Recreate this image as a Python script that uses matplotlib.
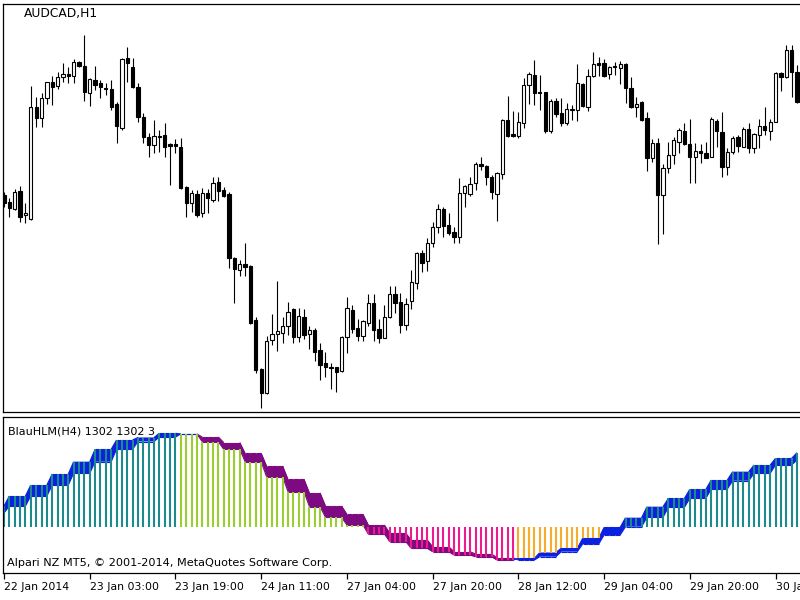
import numpy as np
import matplotlib
matplotlib.use("Agg")
import matplotlib.pyplot as plt
from matplotlib.collections import LineCollection

# ---------------- data ----------------
symbol_label = "AUDCAD,H1"
indicator_label = "BlauHLM(H4) 1302 1302 3"
copyright_label = "Alpari NZ MT5, \u00a9 2001-2014, MetaQuotes Software Corp."

tick_positions = [0, 16, 32, 48, 64, 80, 96, 112, 128, 144]
tick_labels = ["22 Jan 2014", "23 Jan 03:00", "23 Jan 19:00", "24 Jan 11:00",
               "27 Jan 04:00", "27 Jan 20:00", "28 Jan 12:00", "29 Jan 04:00",
               "29 Jan 20:00", "30 Jan 12:00"]

open_ = [
    0.9825, 0.9818, 0.9811, 0.9829, 0.9805, 0.9801, 0.9913, 0.9902, 0.9922, 0.9938,
    0.9934, 0.9943, 0.9946, 0.9944, 0.9958, 0.9954, 0.9927, 0.9940, 0.9937, 0.9932,
    0.9931, 0.9916, 0.9892, 0.9962, 0.9953, 0.9933, 0.9903, 0.9883, 0.9875, 0.9884,
    0.9885, 0.9876, 0.9876, 0.9873, 0.9833, 0.9817, 0.9826, 0.9807, 0.9827, 0.9820,
    0.9838, 0.9830, 0.9826, 0.9762, 0.9750, 0.9756, 0.9754, 0.9700, 0.9651, 0.9627,
    0.9680, 0.9686, 0.9687, 0.9694, 0.9711, 0.9683, 0.9703, 0.9686, 0.9690, 0.9670,
    0.9657, 0.9653, 0.9653, 0.9649, 0.9683, 0.9710, 0.9692, 0.9684, 0.9697, 0.9717,
    0.9691, 0.9682, 0.9703, 0.9726, 0.9718, 0.9695, 0.9719, 0.9737, 0.9767, 0.9759,
    0.9777, 0.9793, 0.9811, 0.9795, 0.9788, 0.9783, 0.9827, 0.9826, 0.9837, 0.9856,
    0.9854, 0.9843, 0.9826, 0.9846, 0.9900, 0.9886, 0.9884, 0.9897, 0.9935, 0.9945,
    0.9928, 0.9928, 0.9889, 0.9919, 0.9907, 0.9897, 0.9910, 0.9910, 0.9936, 0.9913,
    0.9944, 0.9957, 0.9957, 0.9946, 0.9954, 0.9952, 0.9956, 0.9932, 0.9913, 0.9918,
    0.9902, 0.9862, 0.9877, 0.9825, 0.9852, 0.9865, 0.9878, 0.9889, 0.9876, 0.9863,
    0.9869, 0.9867, 0.9863, 0.9899, 0.9888, 0.9853, 0.9868, 0.9883, 0.9873, 0.9891,
    0.9872, 0.9885, 0.9894, 0.9889, 0.9898, 0.9947, 0.9943, 0.9970, 0.9948]

close = [
    0.9817, 0.9812, 0.9828, 0.9803, 0.9807, 0.9913, 0.9902, 0.9922, 0.9938, 0.9933,
    0.9943, 0.9946, 0.9944, 0.9958, 0.9954, 0.9928, 0.9941, 0.9935, 0.9933, 0.9931,
    0.9913, 0.9894, 0.9961, 0.9957, 0.9933, 0.9903, 0.9883, 0.9875, 0.9884, 0.9883,
    0.9873, 0.9874, 0.9874, 0.9832, 0.9817, 0.9827, 0.9805, 0.9827, 0.9822, 0.9837,
    0.9829, 0.9824, 0.9762, 0.9751, 0.9756, 0.9753, 0.9697, 0.9650, 0.9627, 0.9679,
    0.9686, 0.9689, 0.9694, 0.9708, 0.9683, 0.9704, 0.9685, 0.9690, 0.9668, 0.9655,
    0.9653, 0.9652, 0.9648, 0.9683, 0.9712, 0.9691, 0.9684, 0.9699, 0.9717, 0.9690,
    0.9682, 0.9703, 0.9726, 0.9717, 0.9695, 0.9716, 0.9738, 0.9767, 0.9757, 0.9777,
    0.9793, 0.9811, 0.9794, 0.9787, 0.9783, 0.9827, 0.9834, 0.9836, 0.9856, 0.9854,
    0.9843, 0.9828, 0.9847, 0.9900, 0.9884, 0.9884, 0.9898, 0.9935, 0.9946, 0.9927,
    0.9927, 0.9889, 0.9919, 0.9906, 0.9897, 0.9911, 0.9911, 0.9937, 0.9914, 0.9944,
    0.9956, 0.9955, 0.9944, 0.9953, 0.9953, 0.9956, 0.9932, 0.9913, 0.9916, 0.9900,
    0.9862, 0.9877, 0.9825, 0.9852, 0.9865, 0.9880, 0.9890, 0.9876, 0.9863, 0.9869,
    0.9867, 0.9862, 0.9901, 0.9889, 0.9853, 0.9868, 0.9882, 0.9874, 0.9891, 0.9872,
    0.9886, 0.9894, 0.9890, 0.9898, 0.9947, 0.9943, 0.9970, 0.9948, 0.9918]

high = [
    0.9828, 0.9822, 0.9831, 0.9834, 0.9817, 0.9934, 0.9923, 0.9927, 0.9938, 0.9944,
    0.9948, 0.9957, 0.9953, 0.9961, 0.9959, 0.9985, 0.9942, 0.9954, 0.9940, 0.9937,
    0.9940, 0.9918, 0.9962, 0.9973, 0.9962, 0.9937, 0.9907, 0.9887, 0.9900, 0.9890,
    0.9897, 0.9877, 0.9881, 0.9882, 0.9834, 0.9830, 0.9830, 0.9832, 0.9831, 0.9843,
    0.9843, 0.9833, 0.9828, 0.9763, 0.9760, 0.9777, 0.9755, 0.9703, 0.9652, 0.9684,
    0.9706, 0.9739, 0.9703, 0.9718, 0.9712, 0.9712, 0.9711, 0.9694, 0.9692, 0.9677,
    0.9668, 0.9657, 0.9653, 0.9684, 0.9723, 0.9715, 0.9701, 0.9700, 0.9726, 0.9726,
    0.9701, 0.9715, 0.9734, 0.9734, 0.9727, 0.9722, 0.9750, 0.9768, 0.9770, 0.9782,
    0.9798, 0.9816, 0.9813, 0.9807, 0.9793, 0.9842, 0.9835, 0.9843, 0.9858, 0.9863,
    0.9855, 0.9845, 0.9848, 0.9901, 0.9924, 0.9909, 0.9908, 0.9942, 0.9948, 0.9960,
    0.9945, 0.9928, 0.9921, 0.9922, 0.9922, 0.9917, 0.9915, 0.9956, 0.9937, 0.9951,
    0.9968, 0.9963, 0.9961, 0.9954, 0.9958, 0.9959, 0.9957, 0.9943, 0.9923, 0.9919,
    0.9908, 0.9881, 0.9882, 0.9856, 0.9878, 0.9883, 0.9892, 0.9897, 0.9901, 0.9877,
    0.9876, 0.9878, 0.9903, 0.9901, 0.9908, 0.9872, 0.9884, 0.9885, 0.9893, 0.9897,
    0.9887, 0.9901, 0.9913, 0.9901, 0.9948, 0.9948, 0.9975, 0.9975, 0.9955]

low = [
    0.9813, 0.9803, 0.9810, 0.9798, 0.9797, 0.9800, 0.9893, 0.9893, 0.9916, 0.9915,
    0.9931, 0.9938, 0.9937, 0.9937, 0.9953, 0.9919, 0.9914, 0.9930, 0.9922, 0.9925,
    0.9910, 0.9877, 0.9890, 0.9938, 0.9932, 0.9898, 0.9877, 0.9863, 0.9867, 0.9868,
    0.9863, 0.9835, 0.9867, 0.9831, 0.9803, 0.9808, 0.9803, 0.9803, 0.9807, 0.9818,
    0.9819, 0.9823, 0.9752, 0.9717, 0.9744, 0.9744, 0.9696, 0.9647, 0.9612, 0.9626,
    0.9675, 0.9669, 0.9677, 0.9685, 0.9677, 0.9678, 0.9681, 0.9671, 0.9659, 0.9640,
    0.9643, 0.9631, 0.9628, 0.9648, 0.9667, 0.9687, 0.9679, 0.9679, 0.9694, 0.9679,
    0.9677, 0.9682, 0.9702, 0.9707, 0.9687, 0.9690, 0.9711, 0.9731, 0.9748, 0.9749,
    0.9773, 0.9787, 0.9783, 0.9785, 0.9777, 0.9777, 0.9813, 0.9824, 0.9830, 0.9850,
    0.9835, 0.9821, 0.9799, 0.9841, 0.9883, 0.9883, 0.9882, 0.9892, 0.9916, 0.9915,
    0.9910, 0.9887, 0.9887, 0.9903, 0.9894, 0.9895, 0.9900, 0.9899, 0.9913, 0.9909,
    0.9943, 0.9944, 0.9943, 0.9941, 0.9945, 0.9936, 0.9917, 0.9912, 0.9903, 0.9899,
    0.9849, 0.9858, 0.9776, 0.9786, 0.9847, 0.9856, 0.9867, 0.9875, 0.9837, 0.9837,
    0.9857, 0.9862, 0.9863, 0.9873, 0.9843, 0.9845, 0.9866, 0.9868, 0.9873, 0.9867,
    0.9867, 0.9872, 0.9885, 0.9880, 0.9898, 0.9929, 0.9942, 0.9923, 0.9917]

# BlauHLM (H4 values, each H4 block spans the H1 bars starting at hlm_block_start)
hlm_block_start = [0, 1, 5, 9, 13, 17, 21, 25, 29, 33, 37, 41, 45, 49, 53, 57,
                   60, 64, 68, 72, 76, 80, 84, 88, 92, 96, 100, 104, 108, 112,
                   116, 120, 124, 128, 132, 136, 140, 144, 148]
hlm_value = [210, 310, 420, 530, 653, 777, 870, 895, 937, 930, 853, 777, 653, 503,
             353, 203, 97, 20, -70, -147, -213, -247, -280, -297, -330, -313,
             -255, -213, -113, -3, 93, 203, 287, 377, 470, 553, 620, 687, 743]
hlm_ref = [140, 210, 310, 420, 537, 653, 777, 855, 900, 930, 900, 845, 737, 610,
           477, 340, 210, 127, 20, -63, -130, -197, -247, -270, -307, -330,
           -297, -247, -170, -80, 3, 97, 197, 287, 380, 463, 537, 620, 670]

# ---------------- figure ----------------
W, H = 800, 600
fig = plt.figure(figsize=(8, 6), dpi=100)
fig.patch.set_facecolor("white")

def ax_rect(left_px, top_px, right_px, bottom_px):
    return [left_px / W, 1 - bottom_px / H, (right_px - left_px) / W, (bottom_px - top_px) / H]

n = len(open_)
x = np.arange(n)
xlim = (-0.19, 148.75)

o = np.array(open_); c = np.array(close); hi = np.array(high); lo = np.array(low)

ax1 = fig.add_axes(ax_rect(3, 4, 801, 412))
ax1.set_xlim(*xlim)
ax1.set_ylim(0.9608, 1.0016)
ax1.vlines(x, lo, hi, color="black", linewidth=0.8, zorder=1)
bull = c >= o
body_lo = np.minimum(o, c)
body_h = np.maximum(np.abs(c - o), 0.00012)
ax1.bar(x[bull], body_h[bull], bottom=body_lo[bull], width=0.62,
        facecolor="white", edgecolor="black", linewidth=0.8, zorder=2)
ax1.bar(x[~bull], body_h[~bull], bottom=body_lo[~bull], width=0.62,
        facecolor="black", edgecolor="black", linewidth=0.8, zorder=2)
ax1.set_xticks([]); ax1.set_yticks([])
for s in ax1.spines.values():
    s.set_linewidth(0.9); s.set_color("black")

# indicator panel
ax2 = fig.add_axes(ax_rect(3, 417, 801, 573))
ax2.set_xlim(*xlim)
ax2.set_ylim(-460, 1100)

starts = np.array(hlm_block_start)
lengths = np.diff(np.append(starts, n))
a = np.repeat(np.array(hlm_value, dtype=float), lengths)
b = np.repeat(np.array(hlm_ref, dtype=float), lengths)

BLUE = "#0a22e0"
PURPLE = "#7d0a80"
TEAL = "#1e8a8c"
LGREEN = "#9acd32"
PINK = "#ee1a8e"
ORANGE = "#f6ac2c"

rising = a >= b
ax2.fill_between(x, a, b, where=rising, interpolate=True, color=BLUE, linewidth=0, zorder=1)
ax2.fill_between(x, a, b, where=~rising, interpolate=True, color=PURPLE, linewidth=0, zorder=1)
segs, cols = [], []
for i in range(n - 1):
    col = BLUE if rising[i + 1] else PURPLE
    segs.append([(x[i], a[i]), (x[i + 1], a[i + 1])]); cols.append(col)
    segs.append([(x[i], b[i]), (x[i + 1], b[i + 1])]); cols.append(col)
ax2.add_collection(LineCollection(segs, colors=cols, linewidths=0.8, zorder=1))

hcol = []
for ai, bi in zip(a, b):
    if ai >= 0:
        hcol.append(TEAL if ai > bi else LGREEN)
    else:
        hcol.append(ORANGE if ai > bi else PINK)
ax2.vlines(x, 0, a, colors=hcol, linewidth=1.5, zorder=2)

ax2.set_yticks([])
ax2.set_xticks(tick_positions)
ax2.set_xticklabels(tick_labels, fontsize=7.8, fontfamily="DejaVu Sans")
for lab in ax2.get_xticklabels():
    lab.set_horizontalalignment("left")
ax2.tick_params(axis="x", direction="out", length=4, width=0.9, pad=2.5, colors="black")
for s in ax2.spines.values():
    s.set_linewidth(0.9); s.set_color("black")

fig.text(24 / W, 1 - 14 / H, symbol_label, fontsize=8.8, fontfamily="DejaVu Sans",
         ha="left", va="center", color="black")
fig.text(8 / W, 1 - 432 / H, indicator_label, fontsize=8, fontfamily="DejaVu Sans",
         ha="left", va="center", color="black")
fig.text(7 / W, 1 - 563 / H, copyright_label, fontsize=8.1, fontfamily="DejaVu Sans",
         ha="left", va="center", color="black")

fig.savefig("out.png", dpi=100, facecolor="white")
